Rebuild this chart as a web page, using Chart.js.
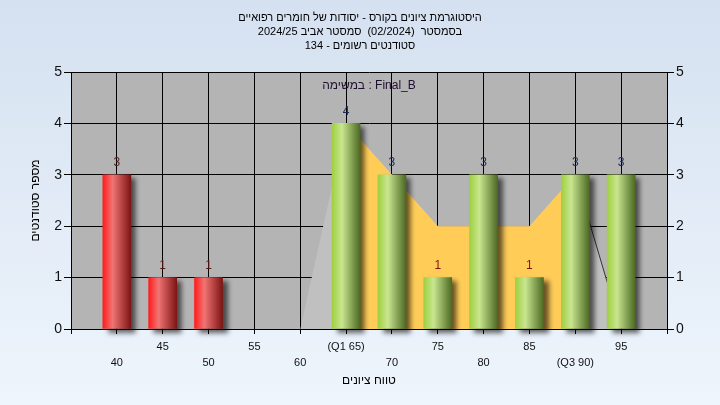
<!DOCTYPE html>
<html>
<head>
<meta charset="utf-8">
<script src="https://cdn.jsdelivr.net/npm/chart.js@4"></script>
<style>
  html, body { margin: 0; padding: 0; }
  body { width: 720px; height: 405px; background: linear-gradient(to bottom, #d5e1f1, #eef5fc); }
  canvas { display: block; }
</style>
</head>
<body>
<canvas id="histChart" width="720" height="405" dir="rtl"></canvas>
<script>
// נתוני ההיסטוגרמה
const grades = [40, 45, 50, 55, 60, 65, 70, 75, 80, 85, 90, 95];
const counts = [3, 1, 1, 0, 0, 4, 3, 1, 3, 1, 3, 3];
const gradeLabels = ['40', '45', '50', '55', '60', '(Q1 65)', '70', '75', '80', '85', '(Q3 90)', '95'];
const curveGrades = [60, 65, 70, 75, 80, 85, 90, 95];
const curveCounts = [0, 4, 3, 2, 2, 2, 3, 0];
const q1 = 65, q3 = 90;
const passGrade = 60;
const titleLines = [
  'היסטוגרמת ציונים בקורס - יסודות של חומרים רפואיים',
  'בסמסטר  (02/2024)  סמסטר אביב 2024/25',
  'סטודנטים רשומים - 134'
];
const taskLabel = 'Final_B : במשימה';

const FONT = "'Liberation Sans', 'DejaVu Sans', Arial, sans-serif";

function barGradient(c) {
  const chart = c.chart;
  if (!chart.chartArea || !chart.scales.x) return '#888';
  const g = grades[c.dataIndex];
  const px = chart.scales.x.getPixelForValue(g);
  const grad = chart.ctx.createLinearGradient(px - 14, 0, px + 14, 0);
  if (g < passGrade) {
    grad.addColorStop(0, '#ff1c1c');
    grad.addColorStop(0.35, '#f07474');
    grad.addColorStop(1, '#7e1414');
  } else {
    grad.addColorStop(0, '#9ed040');
    grad.addColorStop(0.35, '#c9e690');
    grad.addColorStop(1, '#4c6a22');
  }
  return grad;
}

const plotBg = {
  id: 'plotBg',
  beforeDraw(chart) {
    const { ctx, chartArea: a } = chart;
    ctx.save();
    ctx.fillStyle = '#b4b4b4';
    ctx.fillRect(a.left, a.top, a.right - a.left, a.bottom - a.top);
    ctx.restore();
  }
};

const barShadow = {
  id: 'barShadow',
  beforeDatasetDraw(chart, args) {
    if (args.index !== 0) return;
    const ctx = chart.ctx;
    ctx.save();
    ctx.shadowColor = 'rgba(0,0,0,0.6)';
    ctx.shadowBlur = 5;
    ctx.shadowOffsetX = 5;
    ctx.shadowOffsetY = 4;
  },
  afterDatasetDraw(chart, args) {
    if (args.index !== 0) return;
    chart.ctx.restore();
  }
};

const valueLabels = {
  id: 'valueLabels',
  afterDatasetsDraw(chart) {
    const ctx = chart.ctx;
    const meta = chart.getDatasetMeta(0);
    ctx.save();
    ctx.font = '12px ' + FONT;
    ctx.textAlign = 'center';
    ctx.textBaseline = 'middle';
    meta.data.forEach((el, i) => {
      if (!counts[i]) return;
      if (grades[i] < passGrade) ctx.fillStyle = '#5a1a1a';
      else ctx.fillStyle = counts[i] === 1 ? '#8a1010' : '#1a2a5a';
      ctx.fillText(String(counts[i]), el.x, el.y - 12);
    });
    // תווית המשימה
    const a = chart.chartArea;
    ctx.fillStyle = '#201030';
    ctx.fillText(taskLabel, (a.left + a.right) / 2, a.top + 14);
    ctx.restore();
  }
};

const ctx = document.getElementById('histChart').getContext('2d');
const chart = new Chart(ctx, {
  type: 'bar',
  data: {
    datasets: [
      {
        type: 'bar',
        data: grades.map((g, i) => ({ x: g, y: counts[i] || null })),
        backgroundColor: barGradient,
        borderWidth: 0,
        barThickness: 28,
        clip: false,
        order: 0
      },
      {
        type: 'line',
        data: curveGrades.map((g, i) => ({ x: g, y: curveCounts[i] }))
          .filter(p => p.x >= q1 && p.x <= q3),
        backgroundColor: '#ffcc58',
        borderWidth: 0,
        pointRadius: 0,
        fill: 'origin',
        tension: 0,
        order: 1
      },
      {
        type: 'line',
        data: curveGrades.map((g, i) => ({ x: g, y: curveCounts[i] })),
        backgroundColor: '#c0c0c0',
        borderWidth: 1,
        segment: {
          borderColor: c => c.p0.parsed.x >= q3 ? '#333333' : 'rgba(0,0,0,0)'
        },
        pointRadius: 0,
        fill: 'origin',
        tension: 0,
        order: 2
      }
    ]
  },
  options: {
    responsive: false,
    animation: false,
    layout: { padding: 0 },
    plugins: {
      legend: { display: false },
      tooltip: { enabled: false },
      title: {
        display: true,
        text: titleLines,
        color: '#000',
        font: { family: FONT, size: 11, weight: 'normal', lineHeight: '14px' },
        padding: { top: 11, bottom: 19 }
      }
    },
    scales: {
      x: {
        type: 'linear',
        min: 35,
        max: 100,
        offset: false,
        afterFit: s => { s.height = 76; },
        ticks: {
          stepSize: 5,
          autoSkip: false,
          maxRotation: 0,
          padding: 5,
          color: '#111',
          font: { family: FONT, size: 11, lineHeight: '16px' },
          callback: v => {
            const i = grades.indexOf(v);
            if (i < 0) return '';
            return i % 2 === 0 ? ['', gradeLabels[i]] : [gradeLabels[i]];
          }
        },
        grid: { color: '#000', lineWidth: 1, tickLength: 5, offset: false },
        border: { color: '#000' },
        title: {
          display: true,
          text: 'טווח ציונים',
          color: '#000',
          font: { family: FONT, size: 12 },
          padding: { top: 0, bottom: 17 }
        }
      },
      y: {
        position: 'left',
        min: 0,
        max: 5,
        afterFit: s => { s.width = 71; },
        ticks: { stepSize: 1, padding: 2, color: '#111', font: { family: FONT, size: 14 } },
        grid: { color: '#000', lineWidth: 1, tickLength: 7 },
        border: { color: '#000' },
        title: {
          display: true,
          text: 'מספר סטודנטים',
          color: '#000',
          font: { family: FONT, size: 12 },
          padding: { top: 28, bottom: 0 }
        }
      },
      y2: {
        position: 'right',
        min: 0,
        max: 5,
        afterFit: s => { s.width = 53; },
        ticks: { stepSize: 1, padding: 2, color: '#111', font: { family: FONT, size: 14 } },
        grid: { drawOnChartArea: false, color: '#000', tickLength: 7 },
        border: { color: '#000' }
      }
    }
  },
  plugins: [plotBg, barShadow, valueLabels]
});
</script>
</body>
</html>
